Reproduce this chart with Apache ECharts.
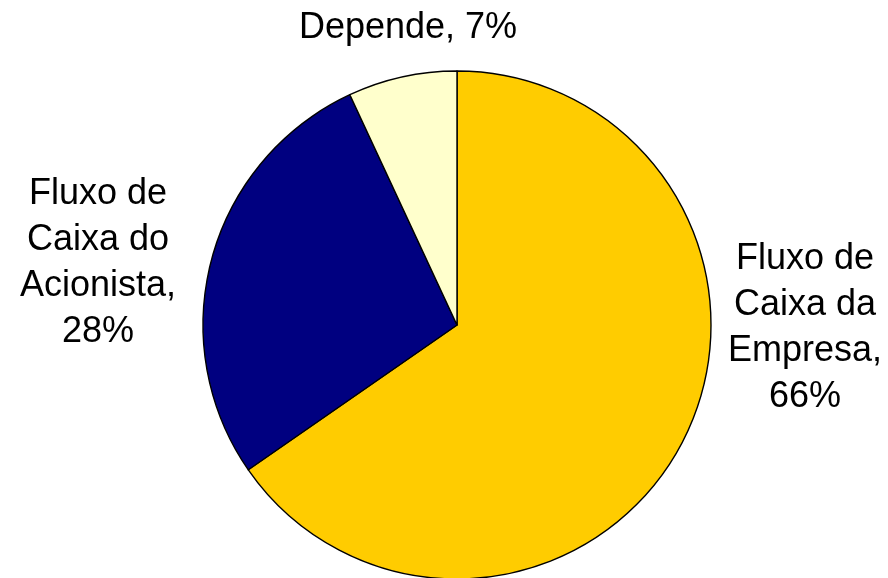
<!DOCTYPE html>
<html>
<head>
<meta charset="utf-8">
<script src="https://cdn.jsdelivr.net/npm/echarts@6/dist/echarts.min.js"></script>
<style>
  html, body { margin: 0; padding: 0; background: #ffffff; }
  #chart { width: 888px; height: 578px; }
</style>
</head>
<body>
<div id="chart"></div>
<script>
// Share of each cash-flow approach
const categories = ['Fluxo de Caixa da Empresa', 'Fluxo de Caixa do Acionista', 'Depende'];
const labelTexts = ['Fluxo de\nCaixa da\nEmpresa,', 'Fluxo de\nCaixa do\nAcionista,', 'Depende,'];
const shares = [66, 28, 7];
const colors = ['#FFCC00', '#000080', '#FFFFCC'];

// Where each label block sits (centre point, px)
const labelSpots = [
  { x: 805, y: 328 },
  { x: 98, y: 263 },
  { x: 408, y: 28 }
];

const chart = echarts.init(document.getElementById('chart'), null, { renderer: 'canvas' });

chart.setOption({
  animation: false,
  series: [{
    type: 'pie',
    center: [457, 325],
    radius: 254,
    startAngle: 90,
    clockwise: true,
    avoidLabelOverlap: false,
    data: categories.map((name, i) => ({
      name: name,
      value: shares[i],
      itemStyle: { color: colors[i] },
      label: {
        formatter: i === 2 ? labelTexts[i] + ' ' + shares[i] + '%' : labelTexts[i] + '\n' + shares[i] + '%'
      }
    })),
    itemStyle: { borderColor: '#000000', borderWidth: 1.4 },
    label: {
      show: true,
      position: 'outside',
      color: '#000000',
      fontFamily: 'Liberation Sans, Arial, sans-serif',
      fontSize: 36,
      lineHeight: 46,
      align: 'center'
    },
    labelLine: { show: false },
    labelLayout: function (params) {
      const p = labelSpots[params.dataIndex];
      return { x: p.x, y: p.y, align: 'center', verticalAlign: 'middle' };
    },
    emphasis: { disabled: true }
  }]
});
</script>
</body>
</html>
